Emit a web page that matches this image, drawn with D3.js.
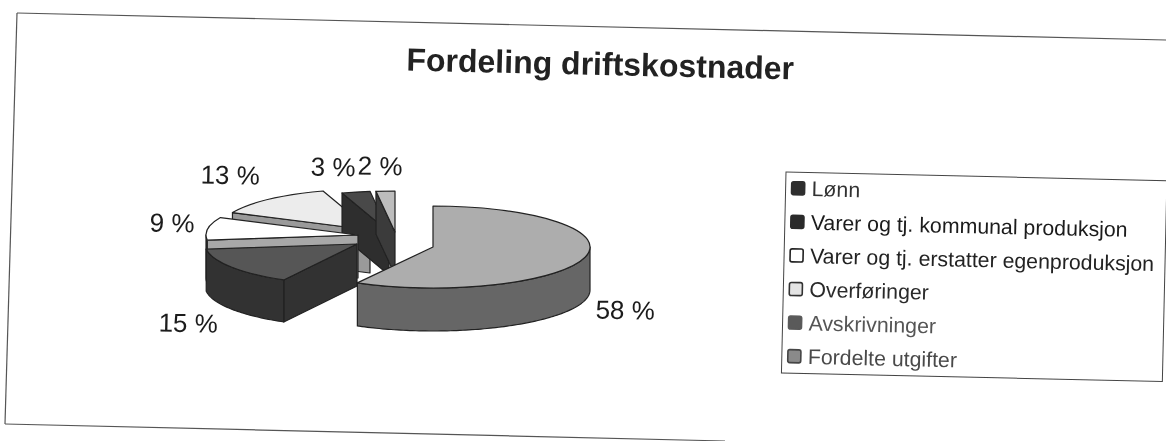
<!DOCTYPE html>
<html><head><meta charset="utf-8">
<script src="https://cdn.jsdelivr.net/npm/d3@7"></script>
<style>html,body{margin:0;padding:0;background:#fff}svg{display:block}text{font-family:"Liberation Sans",Arial,sans-serif}</style>
</head><body><svg id="c" width="1166" height="441"></svg>
<script>
const title = "Fordeling driftskostnader";
const categories = ["Lønn","Varer og tj. kommunal produksjon","Varer og tj. erstatter egenproduksjon","Overføringer","Avskrivninger","Fordelte utgifter"];
const values = [58,15,9,13,3,2];
const valueLabels = ["58 %","15 %","9 %","13 %","3 %","2 %"];

// styling / layout, per slice in data order
const topColors  = ["#adadad","#565656","#ffffff","#ececec","#4a4a4a","#bdbdbd"];
const wallColors = ["#666666","#333333","#a8a8a8","#9a9a9a","#2f2f2f","#3a3a3a"];
const sliceCenters = [[433,247],[357,244],[358,235],[370,230],[389,232],[395,232]];
const sliceRx = [157,152,152,152,152,152];
const sliceDepth = [43,42,43,43,43,43];
const labelAnchors = [[625,319],[188,332],[172,232],[230,184],[333,176],[380,175]];
const drawOrder = [3,4,5,2,1,0];
const legendSwatch = ["#2f2f2f","#2a2a2a","#ffffff","#e4e4e4","#5a5a5a","#8a8a8a"];
const legendStroke = ["#2f2f2f","#2a2a2a","#222222","#333333","#5a5a5a","#444444"];
const legendText   = ["#333333","#1a1a1a","#222222","#2a2a2a","#555555","#4a4a4a"];

const ry = 41;
const svg = d3.select("#c");
svg.append("defs").append("filter").attr("id","scan")
  .attr("x",0).attr("y",0).attr("width",1).attr("height",1).attr("filterUnits","userSpaceOnUse")
  .attr("width",1166).attr("height",441)
  .append("feGaussianBlur").attr("stdDeviation",0.45);
const root = svg.append("g").attr("filter","url(#scan)");

// scanned page frame
const frameSegs = [[[17,13],[1166,40]],[[17,13],[5,424]],[[5,424],[725,441]]];
root.append("g").selectAll("line").data(frameSegs).join("line")
  .attr("x1",d=>d[0][0]).attr("y1",d=>d[0][1]).attr("x2",d=>d[1][0]).attr("y2",d=>d[1][1])
  .attr("stroke","#555").attr("stroke-width",1.2);

root.append("text").attr("transform","translate(600,75) rotate(1.3)")
  .attr("text-anchor","middle").attr("font-size",32).attr("font-weight","bold").attr("fill","#222").text(title);

// pie
const arcs = d3.pie().sort(null).value(d=>d)(values);
const arc = d3.arc().innerRadius(0).outerRadius(1);
const line = d3.line();
const pieG = root.append("g");
drawOrder.forEach(i=>{
  const s = arcs[i], c = sliceCenters[i], rx = sliceRx[i], depth = sliceDepth[i], g = pieG.append("g");
  const pt = (a,dy=0)=>[c[0]+rx*Math.sin(a), c[1]-ry*Math.cos(a)+dy];
  const edge = {stroke:"#222","stroke-width":1.2,"stroke-linejoin":"round"};
  const face = (pts,fill)=>{const p=g.append("path").attr("d",line(pts)+"Z").attr("fill",fill);
    Object.entries(edge).forEach(([k,v])=>p.attr(k,v));};
  const cut = a=>[c,pt(a),pt(a,depth),[c[0],c[1]+depth]];
  if (Math.sin(s.startAngle) < -1e-6) face(cut(s.startAngle),wallColors[i]);
  if (Math.sin(s.endAngle) > 1e-6) face(cut(s.endAngle),wallColors[i]);
  const a0 = Math.max(s.startAngle,Math.PI/2), a1 = Math.min(s.endAngle,3*Math.PI/2);
  if (a1 > a0) {
    const as = d3.range(a0,a1,0.02).concat([a1]);
    face(as.map(a=>pt(a)).concat(as.slice().reverse().map(a=>pt(a,depth))),wallColors[i]);
  }
  const top = g.append("path").attr("d",arc(s))
    .attr("transform",`translate(${c[0]},${c[1]}) scale(${rx},${ry})`)
    .attr("fill",topColors[i]).attr("vector-effect","non-scaling-stroke");
  Object.entries(edge).forEach(([k,v])=>top.attr(k,v));
});

// value labels
root.append("g").selectAll("text").data(valueLabels).join("text")
  .attr("transform",(d,i)=>`translate(${labelAnchors[i][0]},${labelAnchors[i][1]}) rotate(1.2)`)
  .attr("text-anchor","middle").attr("font-size",26).attr("fill","#1a1a1a").text(d=>d);

// legend
const lg = root.append("g").attr("transform","translate(786,172) rotate(1.3)");
lg.append("rect").attr("width",381).attr("height",201).attr("fill","none").attr("stroke","#444").attr("stroke-width",1);
const rowY = d3.scalePoint().domain(categories).range([16,184]);
const row = lg.selectAll("g").data(categories).join("g").attr("transform",d=>`translate(0,${rowY(d)})`);
row.append("rect").attr("x",6).attr("y",-6.5).attr("width",13).attr("height",13).attr("rx",2)
  .attr("fill",(d,i)=>legendSwatch[i]).attr("stroke",(d,i)=>legendStroke[i]).attr("stroke-width",1.6);
row.append("text").attr("x",26).attr("y",7.5).attr("font-size",21.3).attr("fill",(d,i)=>legendText[i]).text(d=>d);
</script></body></html>
